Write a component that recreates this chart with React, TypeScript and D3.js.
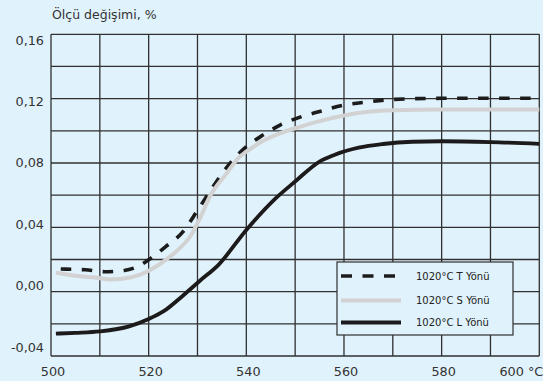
import React from "react";
import * as d3 from "d3";

const W = 543;
const H = 381;

const tTemps = [502, 504, 507, 511, 515, 518, 520, 523.5, 527, 530, 533, 537, 540, 543.5, 547, 551, 555, 560, 565, 570, 580, 590, 600];
const tVals = [0.0141, 0.0139, 0.0136, 0.0124, 0.0132, 0.016, 0.0198, 0.028, 0.0372, 0.0505, 0.0645, 0.081, 0.0902, 0.0975, 0.1037, 0.1085, 0.112, 0.116, 0.118, 0.1195, 0.1202, 0.1202, 0.1202];

const sTemps = [501, 505, 510, 512, 516.5, 520, 523.5, 526, 528.5, 530.5, 532.5, 536, 538.5, 540, 543, 547, 551, 555, 560, 565, 570, 580, 600];
const sVals = [0.0118, 0.0099, 0.0084, 0.0076, 0.009, 0.013, 0.0198, 0.026, 0.0343, 0.0455, 0.059, 0.0737, 0.0835, 0.087, 0.093, 0.0985, 0.1025, 0.106, 0.1095, 0.1118, 0.1128, 0.1132, 0.1132];

const lTemps = [501, 505, 510, 516, 520, 523, 527, 530.5, 534.3, 540, 546, 550, 555, 558, 563, 568, 574, 580, 590, 600];
const lVals = [-0.0261, -0.0256, -0.0247, -0.0216, -0.017, -0.0123, -0.0025, 0.0068, 0.0167, 0.0384, 0.058, 0.0685, 0.0809, 0.085, 0.0895, 0.0918, 0.0932, 0.0935, 0.093, 0.0919];

const xTicks = [500, 520, 540, 560, 580, 600];
const xTickLabels = ["500", "520", "540", "560", "580", "600 °C"];
const xGrid = [500, 510, 520, 530, 540, 550, 560, 570, 580, 590, 600];
const yTicks = [0.16, 0.12, 0.08, 0.04, 0.0, -0.04];
const yTickLabels = ["0,16", "0,12", "0,08", "0,04", "0,00", "-0,04"];
const yGrid = [-0.04, -0.02, 0, 0.02, 0.04, 0.06, 0.08, 0.1, 0.12, 0.14, 0.16];

const legendLabels = ["1020°C T Yönü", "1020°C S Yönü", "1020°C L Yönü"];

const BG = "#e0f2fc";
const GRID = "#303030";
const FONT = "'DejaVu Sans', Verdana, sans-serif";
const TEXT = "#333";

export default function App() {
  const x = d3.scaleLinear().domain([500, 600]).range([51, 539.3]);
  const y = d3.scaleLinear().domain([-0.04, 0.16]).range([356, 34.3]);
  const yLab = d3.scaleLinear().domain([0.16, -0.04]).range([40, 347]);

  const line = d3
    .line<[number, number]>()
    .x((d) => x(d[0]))
    .y((d) => y(d[1]))
    .curve(d3.curveMonotoneX);

  const zip = (a: number[], b: number[]) => a.map((t, i) => [t, b[i]] as [number, number]);

  const series = [
    { data: zip(tTemps, tVals), stroke: "#1c1c1c", width: 3.6, dash: "10.5,10.5" },
    { data: zip(sTemps, sVals), stroke: "#d2d2d2", width: 4, dash: undefined },
    { data: zip(lTemps, lVals), stroke: "#1c1a1a", width: 3.8, dash: undefined },
  ];

  const legend = { x0: 337, y0: 262, w: 176, h: 73 };
  const legendRows = [276, 300.5, 322.5];

  return (
    <svg
      width={W}
      height={H}
      style={{ position: "absolute", left: 0, top: 0 }}
      fontFamily={FONT}
    >
      <rect x={0} y={0} width={W} height={H} fill={BG} />
      <text x={52} y={19} fontSize={12.5} fill={TEXT}>
        Ölçü değişimi, %
      </text>
      {yGrid.map((v) => (
        <line key={"h" + v} x1={x(500)} x2={x(600)} y1={y(v)} y2={y(v)} stroke={GRID} strokeWidth={1.3} />
      ))}
      {xGrid.map((t) => (
        <line key={"v" + t} x1={x(t)} x2={x(t)} y1={y(0.16)} y2={y(-0.04)} stroke={GRID} strokeWidth={1.3} />
      ))}
      {yTicks.map((v, i) => (
        <text key={"yl" + v} x={44} y={yLab(v) + 4.6} fontSize={12.8} fill={TEXT} textAnchor="end">
          {yTickLabels[i]}
        </text>
      ))}
      {xTicks.map((t, i) =>
        i === xTicks.length - 1 ? (
          <text key={"xl" + t} x={x(t) + 4} y={376} fontSize={12.8} fill={TEXT} textAnchor="end">
            {xTickLabels[i]}
          </text>
        ) : (
          <text key={"xl" + t} x={x(t) + 2} y={376} fontSize={12.8} fill={TEXT} textAnchor="middle">
            {xTickLabels[i]}
          </text>
        )
      )}
      {series.map((s, i) => (
        <path
          key={"s" + i}
          d={line(s.data) || ""}
          fill="none"
          stroke={s.stroke}
          strokeWidth={s.width}
          strokeDasharray={s.dash}
        />
      ))}
      <rect x={legend.x0} y={legend.y0} width={legend.w} height={legend.h} fill={BG} stroke={GRID} strokeWidth={1.2} />
      {series.map((s, i) => (
        <g key={"lg" + i}>
          <line
            x1={341}
            x2={401}
            y1={legendRows[i]}
            y2={legendRows[i]}
            stroke={s.stroke}
            strokeWidth={s.width}
            strokeDasharray={s.dash ? "11,10.5" : undefined}
          />
          <text x={416} y={legendRows[i] + 3.6} fontSize={10} fill="#222">
            {legendLabels[i]}
          </text>
        </g>
      ))}
    </svg>
  );
}
